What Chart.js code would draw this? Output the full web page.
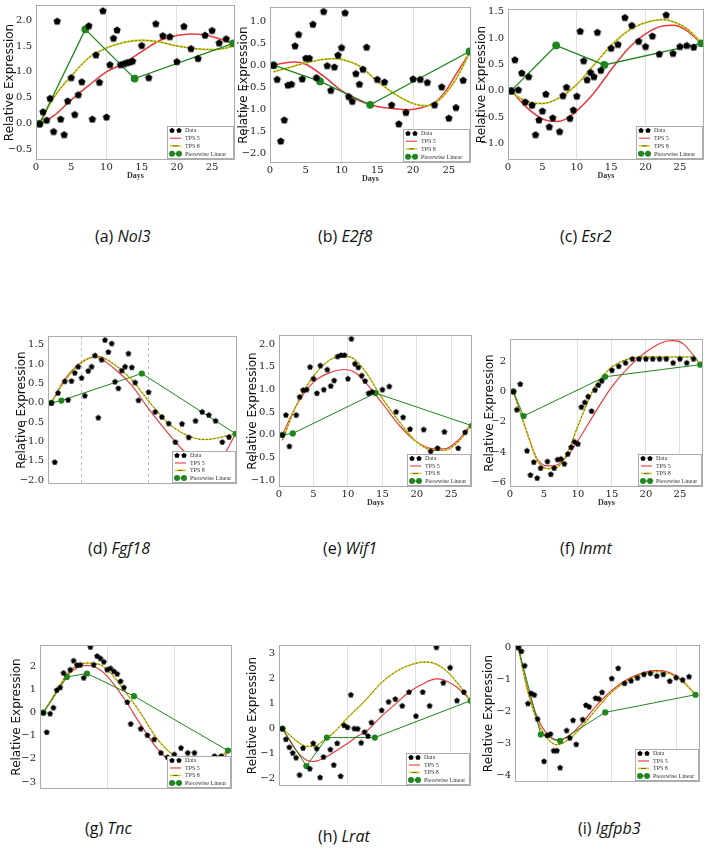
<!DOCTYPE html>
<html><head><meta charset="utf-8">
<script src="https://cdn.jsdelivr.net/npm/chart.js@4.4.0/dist/chart.umd.min.js"></script>
<style>
html,body{margin:0;padding:0;background:#fff;}
body{width:708px;height:857px;position:relative;overflow:hidden;}
canvas{position:absolute;}
.cap{position:absolute;font-family:'Open Sans','Noto Sans',sans-serif;font-size:16px;color:#111;white-space:nowrap;transform:translateY(-50%);}
</style></head><body>
<script>
// ---------- data (day, relative expression) ----------
const nol3Data = [[0.5,0],[1,0.23],[1.5,0.07],[2,0.49],[2.5,-0.15],[3,1.98],[3.5,0.09],[4,-0.21],[4.5,0.44],[5,0.89],[5.5,0.18],[6,0.56],[6.5,0.81],[7.5,1.89],[8,0.09],[8.5,1.33],[9,0.80],[9.5,2.18],[10,0.13],[10.5,1.14],[11,1.65],[11.5,1.81],[12,1.14],[12.5,1.16],[12.9,1.18],[13.3,1.19],[13.7,1.21],[15,1.51],[16,0.89],[17,1.93],[18,1.70],[19,1.68],[20,1.20],[21,1.88],[22,1.45],[23,1.26],[24,1.71],[25,1.80],[26,1.56],[27,1.64]];
const nol3Tps5 = [[0.5,0],[2.5,0.15],[5,0.46],[7.5,0.74],[10,1.0],[12.5,1.17],[15,1.39],[17.5,1.6],[20,1.7],[22,1.73],[24,1.71],[26,1.64],[28,1.55]];
const nol3Tps8 = [[0.5,0],[2.5,0.5],[5,0.92],[7.5,1.27],[10,1.46],[12.5,1.57],[15,1.61],[17.5,1.58],[20,1.5],[22.5,1.45],[25,1.43],[27,1.46],[28,1.5]];
const nol3Lin = [[0.5,0],[7,1.82],[14,0.87],[28,1.55]];

const e2f8Data = [[0.5,0],[1,-0.32],[1.5,-1.72],[2,-1.24],[2.5,-0.45],[3,-0.43],[3.5,0.44],[4,0.70],[4.5,-0.31],[5,0.16],[5.5,0.16],[6,0.93],[6.5,-0.28],[7.5,1.22],[8,-0.01],[8.5,-0.57],[9,-0.04],[9.5,0.23],[10,0.40],[10.5,1.19],[11,-0.71],[11.5,-0.82],[12,-0.19],[12.5,-0.43],[13,-0.09],[13.5,0.41],[15,-0.32],[16,-0.38],[17,-0.90],[18,-1.33],[19,-1.07],[20,-0.31],[21,-0.32],[22,-0.39],[23,-0.90],[24,-0.49],[25,-1.20],[26,-0.96],[27,-0.34]];
const e2f8Tps5 = [[0.5,0],[2,0.05],[3.5,0.07],[5,0.02],[7.5,-0.25],[10,-0.58],[12.5,-0.81],[15,-0.94],[17.5,-0.99],[19.5,-1.01],[21,-0.97],[23,-0.85],[24.5,-0.6],[26,-0.21],[28,0.31]];
const e2f8Tps8 = [[0.5,-0.15],[2.5,-0.06],[5,0.05],[7.5,0.13],[9,0.15],[10,0.13],[12.5,-0.02],[15,-0.36],[17.5,-0.66],[20,-0.87],[21.5,-0.92],[23,-0.87],[24.5,-0.65],[26,-0.32],[28,0.31]];
const e2f8Lin = [[0.5,0],[7,-0.37],[14,-0.90],[27.9,0.31]];

const esr2Data = [[0.5,0],[1,0.59],[1.5,0.02],[2,0.34],[2.5,-0.21],[3,0.27],[3.5,-0.27],[4,-0.83],[4.5,-0.55],[5,-0.38],[5.5,-0.06],[6,-0.68],[6.5,-0.51],[7.5,-0.77],[8,-0.09],[8.5,0.07],[9,-0.52],[9.5,-0.36],[10,-0.10],[10.5,1.13],[11,0.57],[11.5,0.21],[12,0.35],[12.5,0.27],[13,1.11],[13.5,0.39],[15,0.81],[16,0.88],[17,1.39],[18,1.24],[19,0.94],[20,0.84],[21,1.04],[22,0.70],[23,1.44],[24,0.71],[25,0.84],[26,0.86],[27,0.83]];
const esr2Tps5 = [[0.5,0],[2.5,-0.29],[5,-0.53],[7,-0.58],[8.5,-0.53],[10,-0.38],[12.5,-0.04],[15,0.40],[17.5,0.80],[20,1.08],[22.5,1.23],[24,1.24],[26,1.14],[28,0.91]];
const esr2Tps8 = [[0.5,-0.03],[2.5,-0.19],[5,-0.24],[7.5,-0.13],[10,0.12],[12.5,0.49],[15,0.86],[17.5,1.14],[20,1.29],[22.5,1.35],[24,1.31],[26,1.18],[28,0.93]];
const esr2Lin = [[0.45,0],[7,0.86],[14,0.49],[28.1,0.90]];

const fgf18Data = [[0.5,0],[1,-1.53],[1.5,0.26],[2.5,0.56],[3,0.08],[3.5,0.57],[4,0.78],[4.5,0.94],[5,0.65],[5.5,0.19],[6,0.83],[6.5,0.94],[7,1.23],[7.5,-0.38],[8,1.12],[8.5,1.63],[9,1.32],[9.5,1.54],[10,0.55],[10.5,0.38],[11,0.84],[11.5,0.94],[12,1.28],[12.5,0.92],[13,0.53],[13.5,0.07],[15,0.28],[16,-0.23],[17,-0.36],[18,-0.53],[19,-1.01],[20,-0.54],[21,-0.89],[22,-0.46],[23,-0.23],[24,-0.31],[25,-0.46],[26,-1.01],[27,-0.88]];
const fgf18Tps5 = [[0.5,0],[2.5,0.61],[5,1.05],[7,1.19],[10,0.87],[12.5,0.45],[15,-0.15],[17.5,-0.7],[20,-1.2],[22,-1.5],[24,-1.6],[26,-1.4],[28,-0.8]];
const fgf18Tps8 = [[0.5,0],[2.5,0.57],[5,1.04],[7.5,1.2],[10,0.98],[12.5,0.6],[15,0.05],[17.5,-0.45],[20,-0.78],[22,-0.92],[23.5,-0.95],[25,-0.92],[27,-0.84],[28,-0.8]];
const fgf18Lin = [[0.5,0],[2,0.06],[14,0.76],[28,-0.80]];

const wif1Data = [[0.5,0],[1,0.44],[1.5,-0.25],[2.5,0.44],[3,0.84],[3.5,0.99],[4,1.0],[4.5,1.50],[5,1.24],[5.5,0.92],[6,1.53],[6.5,1.0],[7,1.44],[7.5,1.08],[8,1.20],[8.5,1.73],[9,1.76],[9.5,1.76],[10,1.24],[10.5,2.12],[11,1.57],[11.5,1.49],[12,1.31],[12.5,1.19],[13,0.92],[13.5,0.95],[15,1.0],[16,1.07],[17,0.51],[18,0.39],[19,0.13],[21,0.12],[22,-0.36],[23,-0.29],[24,0.07],[26,-0.29],[27,0.06]];
const wif1Tps5 = [[0.5,0],[2.5,0.64],[5,1.16],[7.5,1.38],[9.5,1.44],[11,1.38],[12.5,1.16],[15,0.69],[17.5,0.2],[20,-0.16],[22.5,-0.31],[24,-0.31],[26,-0.12],[28,0.28]];
const wif1Tps8 = [[0.5,-0.12],[2.5,0.64],[5,1.29],[7.5,1.66],[9.5,1.73],[11,1.66],[12.5,1.4],[15,0.8],[17.5,0.28],[20,-0.16],[22.5,-0.34],[24,-0.34],[26,-0.16],[28,0.24]];
const wif1Lin = [[0.5,0],[2,0.03],[14,0.92],[28,0.2]];

const inmtData = [[0.5,0],[1,-1.19],[1.5,0.50],[2.5,-3.9],[3,-5.5],[3.5,-4.65],[4,-5.7],[4.5,-5.04],[5.5,-4.61],[6,-5.45],[6.5,-5.04],[7,-4.48],[7.5,-4.44],[8,-4.76],[8.5,-4.11],[9,-3.66],[9.5,-3.31],[10,-3.44],[10.5,-1.02],[11,-0.71],[11.5,-0.32],[12,-1.28],[12.5,0.11],[13,0.43],[13.5,0.71],[15,1.41],[16,1.67],[17,1.90],[18,2.16],[19,2.16],[20,2.16],[21,2.16],[22,2.16],[23,2.16],[24,1.90],[25,2.16],[26,1.90],[27,2.16]];
const inmtTps5 = [[0.5,0],[2.5,-2.7],[4,-4.44],[5.5,-4.91],[7,-4.83],[8.5,-4.22],[10,-3.25],[12.5,-1.41],[15,0.32],[17.5,1.62],[20,2.6],[22.5,3.25],[24,3.35],[25.5,3.14],[27,2.38],[28,1.77]];
const inmtTps8 = [[0.5,0],[2.5,-2.7],[4,-4.55],[5.5,-5.09],[7,-4.98],[8.5,-4.0],[10,-2.27],[12.5,0.32],[14,1.19],[15,1.62],[17.5,2.16],[20,2.27],[22.5,2.27],[25,2.27],[27,2.27],[28,1.77]];
const inmtLin = [[0.5,0],[2,-1.62],[14,0.97],[28,1.77]];

const tncData = [[0.5,0],[1,-0.84],[1.5,-0.04],[2,0.22],[2.5,0.98],[3,1.09],[3.5,1.72],[4.5,1.86],[5,2.25],[5.5,2.06],[6,2.07],[6.5,1.51],[7.5,2.84],[8,2.07],[8.5,2.45],[9,2.35],[9.5,2.2],[10,1.86],[10.5,1.92],[11,1.79],[11.5,1.68],[12,1.36],[12.5,1.09],[13,0.46],[13.5,-0.48],[15,-0.69],[16,-0.97],[17,-1.15],[18,-1.73],[19,-1.92],[20,-1.80],[21,-1.52],[22,-1.73],[23,-1.73],[26,-1.87],[27,-1.87]];
const tncTps5 = [[0.5,0],[2.5,0.88],[4,1.58],[5.5,1.93],[7,2.04],[8.5,1.93],[10,1.58],[12.5,0.62],[15,-0.52],[17.5,-1.57],[20,-2.2],[22.5,-2.48],[25,-2.48],[27,-2.2],[28,-1.64]];
const tncTps8 = [[0.5,0],[2.5,0.95],[4,1.65],[5.5,2.03],[7,2.14],[8.5,2.11],[10,1.86],[12.5,0.98],[15,-0.03],[17.5,-1.15],[20,-1.85],[22.5,-1.99],[25,-1.94],[27,-1.85],[28,-1.64]];
const tncLin = [[0.5,0],[4,1.54],[7,1.69],[14,0.71],[28,-1.64]];

const lratData = [[0.5,0],[1,-0.42],[1.5,-0.74],[2,-0.97],[2.5,-1.16],[3,-1.85],[3.5,-0.77],[4.5,-1.6],[5,-0.58],[5.5,-0.79],[6,-1.95],[6.5,-1.13],[7.5,-0.83],[8,-1.45],[8.5,-0.58],[9,-1.9],[9.5,0.14],[10,0.06],[10.5,1.36],[11,0.01],[11.5,0],[12,-0.56],[12.5,-0.13],[13,-0.29],[13.5,0.25],[15,0.74],[16,1.08],[17,1.19],[18,0.92],[19,1.47],[20,0.51],[21,1.47],[22,0.92],[23,3.26],[24,1.84],[25,2.45],[26,1.13],[27,1.47]];
const lratTps5 = [[0.5,0],[2.5,-0.87],[4,-1.26],[5,-1.32],[6.5,-1.19],[8,-0.95],[10,-0.6],[11.5,-0.3],[13,-0.05],[15,0.5],[17,0.98],[19,1.47],[21,1.79],[23,1.99],[24,1.96],[26,1.66],[28,1.12]];
const lratTps8 = [[0.5,0],[2.5,-0.48],[4,-0.71],[5,-0.71],[6.5,-0.48],[8,-0.16],[10,0.43],[12.5,1.1],[15,1.85],[17.5,2.35],[20,2.62],[21.5,2.67],[23,2.58],[24.5,2.3],[26,1.85],[28,1.12]];
const lratLin = [[0.5,0],[4,-1.5],[7,-0.36],[14,-0.36],[28,1.12]];

const igfData = [[0.5,0],[1,-0.12],[1.5,-0.57],[2,-1.75],[2.5,-1.43],[3,-1.48],[3.5,-2.23],[4.5,-3.55],[5,-2.74],[5.5,-2.70],[6,-3.22],[6.5,-3.22],[7,-3.75],[8,-2.59],[8.5,-2.82],[9,-2.27],[9.5,-3.02],[10.5,-2.25],[11,-1.80],[11.5,-1.85],[12.5,-1.58],[13,-1.60],[13.5,-1.40],[15,-0.97],[16,-0.65],[17,-1.12],[18,-1.04],[19,-0.95],[20,-0.84],[21,-0.81],[22,-0.89],[23,-0.84],[24,-1.05],[25,-0.94],[26,-1.01],[27,-0.91]];
const igfTps5 = [[0.5,0],[2,-1.3],[3.5,-2.2],[5,-2.71],[6.5,-2.9],[8,-2.82],[10,-2.46],[12.5,-1.85],[15,-1.35],[17.5,-0.99],[20,-0.79],[22,-0.72],[24,-0.79],[26,-1.04],[28,-1.48]];
const igfTps8 = [[0.5,0],[2,-1.4],[3.5,-2.31],[5,-2.84],[6.5,-3.04],[8,-2.92],[10,-2.56],[12.5,-1.96],[15,-1.4],[17.5,-1.04],[20,-0.82],[22,-0.76],[24,-0.82],[26,-1.07],[28,-1.48]];
const igfLin = [[0.5,0],[4,-2.72],[7,-2.92],[14,-2.03],[28,-1.48]];

const legendLabels = ['Data','TPS 5','TPS 8','Piecewise Linear'];
const yTitle = 'Relative Expression';
const xTitle = 'Days';

// ---------- layout ----------
const panels = [
 {tag:'(a) ',gene:'Nol3',  L:36, T:3,  R:235,B:160,xmax:28.25,ymin:-0.70,ymax:2.29,step:0.5,dec:1,yx:10, xl:true, grid:[10,20],dash:false,big:true, d:nol3Data,t5:nol3Tps5,t8:nol3Tps8,pl:nol3Lin, cx:95, cy:236},
 {tag:'(b) ',gene:'E2f8',  L:270,T:5,  R:471,B:163,xmax:28.1, ymin:-2.22,ymax:1.32,step:0.5,dec:1,yx:244,xl:true, grid:[10,20],dash:false,big:true, d:e2f8Data,t5:e2f8Tps5,t8:e2f8Tps8,pl:e2f8Lin, cx:318,cy:236},
 {tag:'(c) ',gene:'Esr2',  L:508,T:7,  R:704,B:160,xmax:28.5, ymin:-1.31,ymax:1.55,step:0.5,dec:1,yx:482,xl:true, grid:[10,20],dash:false,big:true, d:esr2Data,t5:esr2Tps5,t8:esr2Tps8,pl:esr2Lin, cx:560,cy:236},
 {tag:'(d) ',gene:'Fgf18', L:48, T:334,R:237,B:486,xmax:28.2, ymin:-2.1, ymax:1.73,step:0.5,dec:1,yx:22, xl:false,grid:[5,15], dash:true, big:false,d:fgf18Data,t5:fgf18Tps5,t8:fgf18Tps8,pl:fgf18Lin,cx:88, cy:548},
 {tag:'(e) ',gene:'Wif1',  L:279,T:333,R:472,B:487,xmax:28,   ymin:-1.15,ymax:2.2, step:0.5,dec:1,yx:253,xl:true, grid:[5,10,15,20,25],dash:false,big:false,d:wif1Data,t5:wif1Tps5,t8:wif1Tps8,pl:wif1Lin,cx:323,cy:548},
 {tag:'(f) ',gene:'Inmt',  L:510,T:337,R:703,B:487,xmax:28.4, ymin:-6.3, ymax:3.46,step:2,  dec:0,yx:490,xl:true, grid:[10,15,20,25],dash:false,big:false,d:inmtData,t5:inmtTps5,t8:inmtTps8,pl:inmtLin,cx:560,cy:548},
 {tag:'(g) ',gene:'Tnc',   L:40, T:643,R:232,B:791,xmax:28.6, ymin:-3.3, ymax:2.92,step:1,  dec:0,yx:17, xl:false,grid:[10,20],dash:false,big:false,d:tncData,t5:tncTps5,t8:tncTps8,pl:tncLin,cx:85, cy:828},
 {tag:'(h) ',gene:'Lrat',  L:279,T:643,R:471,B:788,xmax:28.05,ymin:-2.3, ymax:3.35,step:1,  dec:0,yx:253,xl:false,grid:[10,15,20,25],dash:false,big:false,d:lratData,t5:lratTps5,t8:lratTps8,pl:lratLin,cx:318,cy:836},
 {tag:'(i) ',gene:'Igfpb3',L:515,T:643,R:700,B:784,xmax:28.7, ymin:-4.2, ymax:0.07,step:1,  dec:0,yx:489,xl:false,grid:[5,15,25],dash:false,big:false,d:igfData,t5:igfTps5,t8:igfTps8,pl:igfLin,cx:578,cy:828}
];

const RED='#e8393c', YEL='#d2cb22', YDASH='#3e3c16', GRN='#1f861f', BLK='#000';
const MINUS='\u2212';
function fmt(v,dec){ const s=Math.abs(v).toFixed(dec); return (v < -1e-9 ? MINUS : '') + s; }

const pentCache = {};
function pentagon(r){
  if (pentCache[r]) return pentCache[r];
  const c=document.createElement('canvas'); const s=Math.ceil(r*2+2); c.width=s; c.height=s;
  const g=c.getContext('2d'); g.fillStyle=BLK; g.beginPath();
  for(let i=0;i<5;i++){ const a=-Math.PI/2+i*2*Math.PI/5; g.lineTo(s/2+r*Math.cos(a), s/2+r*Math.sin(a)+0.3); }
  g.closePath(); g.fill(); pentCache[r]=c; return c;
}
function drawPent(ctx,x,y,r){ ctx.beginPath(); for(let i=0;i<5;i++){const a=-Math.PI/2+i*2*Math.PI/5; ctx.lineTo(x+r*Math.cos(a), y+r*Math.sin(a));} ctx.closePath(); ctx.fill(); }

const frameLegend = {
  id:'frameLegend',
  afterDatasetsDraw(chart, args, o){
    const {ctx, chartArea:a} = chart;
    ctx.save();
    ctx.strokeStyle='#ababab'; ctx.lineWidth=1; ctx.setLineDash([]);
    ctx.strokeRect(Math.round(a.left)+0.5, Math.round(a.top)+0.5, Math.round(a.right-a.left)-1, Math.round(a.bottom-a.top)-1);
    const w=o.w, h=o.h, x0=Math.round(a.right-2-w), y0=Math.round(a.bottom-2-h);
    ctx.fillStyle='#fff'; ctx.fillRect(x0,y0,w,h);
    ctx.strokeStyle='#9a9a9a'; ctx.lineWidth=0.8; ctx.strokeRect(x0+0.5,y0+0.5,w,h);
    const step=h/4.15, m1=x0+5, m2=x0+12;
    ctx.font='6px "Liberation Serif", serif'; ctx.textBaseline='middle'; ctx.textAlign='left';
    legendLabels.forEach((lab,i)=>{
      const cy=y0+4.5+i*step;
      if(i===0){ ctx.fillStyle=BLK; drawPent(ctx,m1,cy,2.8); drawPent(ctx,m2,cy,2.8); }
      else if(i===1){ ctx.strokeStyle=RED; ctx.lineWidth=1.1; ctx.beginPath(); ctx.moveTo(x0+3,cy); ctx.lineTo(x0+14,cy); ctx.stroke(); }
      else if(i===2){ ctx.strokeStyle=YEL; ctx.lineWidth=1.6; ctx.beginPath(); ctx.moveTo(x0+3,cy); ctx.lineTo(x0+14,cy); ctx.stroke();
        ctx.strokeStyle=YDASH; ctx.lineWidth=0.7; ctx.beginPath(); ctx.moveTo(x0+6,cy); ctx.lineTo(x0+11,cy); ctx.stroke(); }
      else { ctx.strokeStyle=GRN; ctx.lineWidth=1; ctx.beginPath(); ctx.moveTo(m1,cy); ctx.lineTo(m2,cy); ctx.stroke();
        ctx.fillStyle=GRN; ctx.beginPath(); ctx.arc(m1,cy,3,0,Math.PI*2); ctx.fill(); ctx.beginPath(); ctx.arc(m2,cy,3,0,Math.PI*2); ctx.fill(); }
      ctx.fillStyle='#333'; ctx.fillText(lab, x0+18, cy+0.3);
    });
    ctx.restore();
  }
};

panels.forEach(p=>{
  const padTop=8, padRight=8, padBottom=p.xl?0:8;
  const lh=12*1.2;
  const cLeft=Math.round(p.yx-lh/2);
  const yw=p.L-cLeft;
  const xh=p.xl?21:0;
  const plotW=p.R-p.L, plotH=p.B-p.T;
  const cv=document.createElement('canvas');
  cv.width=yw+plotW+padRight; cv.height=padTop+plotH+xh+padBottom;
  cv.style.left=cLeft+'px'; cv.style.top=(p.T-padTop)+'px';
  cv.style.width=cv.width+'px'; cv.style.height=cv.height+'px';
  document.body.appendChild(cv);

  const cap=document.createElement('div'); cap.className='cap';
  cap.style.left=p.cx+'px'; cap.style.top=p.cy+'px';
  cap.appendChild(document.createTextNode(p.tag));
  const it=document.createElement('i'); it.textContent=p.gene; cap.appendChild(it);
  document.body.appendChild(cap);

  const lw=p.big?1.5:1.15;
  const curve={showLine:true,pointRadius:0,fill:false,cubicInterpolationMode:'monotone'};
  new Chart(cv,{
    type:'scatter',
    data:{datasets:[
      {label:legendLabels[0],data:p.d,showLine:false,pointStyle:pentagon(p.big?3.9:3.0),pointRadius:3},
      {label:legendLabels[3],data:p.pl,showLine:true,borderColor:GRN,borderWidth:p.big?1.3:1,pointStyle:'circle',pointRadius:p.big?3.9:3.1,pointBackgroundColor:GRN,pointBorderColor:GRN,pointBorderWidth:0,tension:0},
      Object.assign({label:'TPS 8 dashes',data:p.t8,borderColor:YDASH,borderWidth:0.7,borderDash:[1.6,2.2]},curve),
      Object.assign({label:legendLabels[2],data:p.t8,borderColor:YEL,borderWidth:lw+0.3},curve),
      Object.assign({label:legendLabels[1],data:p.t5,borderColor:RED,borderWidth:lw},curve)
    ]},
    options:{
      responsive:false,animation:false,devicePixelRatio:1,events:[],
      layout:{padding:{left:0,top:padTop,right:padRight,bottom:padBottom}},
      plugins:{legend:{display:false},tooltip:{enabled:false},frameLegend:{w:p.big?66:63,h:p.big?32:31}},
      scales:{
        x:{type:'linear',min:0,max:p.xmax,
          afterFit(s){s.height=xh;},
          ticks:{display:p.xl,stepSize:5,includeBounds:false,autoSkip:false,maxRotation:0,padding:1,
                 font:{family:'DejaVu Serif',size:10},color:'#222',callback:v=>String(v)},
          grid:{drawTicks:false,lineWidth:1,color:c=>(c.tick&&p.grid.includes(c.tick.value))?(p.dash?'#bdbdbd':'#e0e0e0'):'rgba(0,0,0,0)'},
          border:{display:false,dash:p.dash?[3,3]:[]},
          title:{display:p.xl,text:xTitle,font:{family:'Liberation Serif',size:8,weight:'bold'},color:'#333',padding:{top:0,bottom:0}}},
        y:{type:'linear',min:p.ymin,max:p.ymax,
          afterFit(s){s.width=yw;},
          ticks:{stepSize:p.step,includeBounds:false,padding:4,font:{family:'DejaVu Serif',size:10},color:'#222',callback:v=>fmt(v,p.dec)},
          grid:{display:false,drawTicks:false},
          border:{display:false},
          title:{display:true,text:yTitle,font:{family:'DejaVu Sans',size:12},color:'#111',padding:{top:0,bottom:0}}}
      }
    },
    plugins:[frameLegend]
  });
});
</script>
</body></html>
